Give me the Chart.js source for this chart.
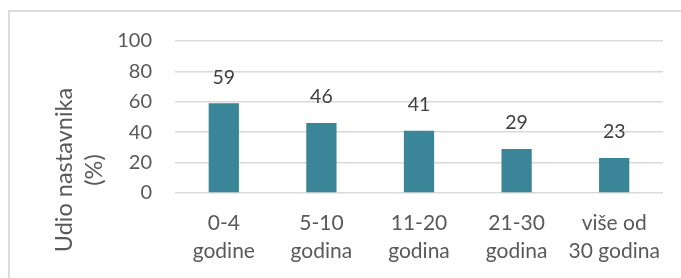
<!DOCTYPE html>
<html lang="hr">
<head>
    <meta charset="UTF-8">
    <title>Udio nastavnika</title>
    <style>
        body{
            margin: 0;
            background: #ffffff;
            overflow: hidden;
        }
        #frame{
            position: absolute;
            left: 8px;
            top: 10px;
            width: 700px;
            height: 300px;
            border: 2px solid #dcdcdc;
        }
        #wrap{
            position: absolute;
            left: 0;
            top: 0;
            width: 681px;
            height: 278px;
        }
    </style>
</head>
<body>
    <div id="frame"></div>
    <div id="wrap">
        <canvas id="grafik" width="681" height="278"></canvas>
    </div>

    <script src="https://cdn.jsdelivr.net/npm/chart.js"></script>
    <script>
        const kategorije = [["0-4", "godine"], ["5-10", "godina"], ["11-20", "godina"], ["21-30", "godina"], ["više od", "30 godina"]];
        const udio = [59, 46, 41, 29, 23];
        const yTicks = [0, 20, 40, 60, 80, 100];
        const yNaslov = ["Udio nastavnika", "(%)"];

        const fontName = "Lato, 'Open Sans', sans-serif";

        // value labels above bars + rotated y title
        const labelPlugin = {
            id: 'labelPlugin',
            afterDatasetsDraw(chart) {
                const ctx = chart.ctx;
                const meta = chart.getDatasetMeta(0);
                ctx.save();
                ctx.fillStyle = "#404040";
                ctx.font = "19.5px " + fontName;
                ctx.textAlign = "center";
                ctx.textBaseline = "middle";
                meta.data.forEach((bar, i) => {
                    ctx.fillText(udio[i], bar.x, bar.y - 26);
                });
                ctx.restore();
            },
            afterDraw(chart) {
                const ctx = chart.ctx;
                ctx.save();
                ctx.translate(64, 170);
                ctx.rotate(-Math.PI / 2);
                ctx.fillStyle = "#595959";
                ctx.font = "23.5px " + fontName;
                ctx.textAlign = "center";
                ctx.textBaseline = "middle";
                ctx.fillText(yNaslov[0], 0, 0);
                ctx.fillText(yNaslov[1], 0, 30);
                ctx.restore();
            }
        };

        new Chart(document.getElementById('grafik'), {
            type: 'bar',
            data: {
                labels: kategorije,
                datasets: [{
                    label: 'udio',
                    data: udio,
                    backgroundColor: "#3a8598",
                    borderWidth: 0,
                    barPercentage: 0.31,
                    categoryPercentage: 1
                }]
            },
            options: {
                responsive: false,
                animation: false,
                devicePixelRatio: 1,
                layout: {
                    padding: {left: 0, right: 18, top: 41, bottom: 0}
                },
                plugins: {
                    legend: {display: false},
                    tooltip: {enabled: false}
                },
                scales: {
                    x: {
                        grid: {display: false, drawTicks: false},
                        border: {display: false},
                        ticks: {
                            color: "#595959",
                            font: {family: fontName, size: 21, lineHeight: 1.3},
                            padding: 17,
                            maxRotation: 0,
                            autoSkip: false
                        },
                        afterFit(scale) {
                            scale.height = 85;
                        }
                    },
                    y: {
                        min: 0,
                        max: 100,
                        afterBuildTicks(scale) {
                            scale.ticks = yTicks.map(v => ({value: v}));
                        },
                        grid: {color: "#d9d9d9", lineWidth: 1.5, drawTicks: false},
                        border: {display: false},
                        ticks: {
                            color: "#595959",
                            font: {family: fontName, size: 20},
                            padding: 23
                        },
                        afterFit(scale) {
                            scale.width = 175;
                        }
                    }
                }
            },
            plugins: [labelPlugin]
        });
    </script>
</body>
</html>
